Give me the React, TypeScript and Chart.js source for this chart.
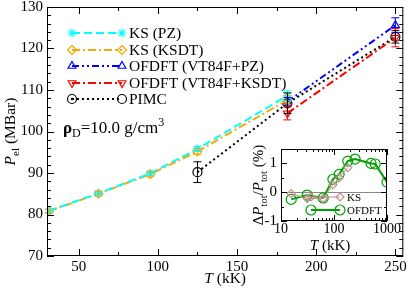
import React, { useEffect, useRef } from 'react';
import { Chart, registerables } from 'chart.js';
Chart.register(...registerables);

const SERIF = '"Liberation Serif", "DejaVu Serif", serif';

// ---- main chart data ----
const T_KS = [31.25, 62.5, 95.25, 125, 181.8];
const P_KS_PZ = [80.9, 85.1, 89.9, 95.8, 108.6];
const E_KS_PZ = [0.4, 0.4, 0.5, 0.6, 1.2];
const P_KS_KSDT = [80.8, 85.0, 89.7, 95.2, 107.6];
const E_KS_KSDT = [0.5, 0.5, 0.6, 0.7, 1.0];
const T_OF = [181.8, 250];
const P_OF_PZ = [107.2, 125.6];
const E_OF_PZ = [1.0, 1.8];
const P_OF_KSDT = [104.4, 122.6];
const E_OF_KSDT = [1.6, 2.2];
const T_PIMC = [125, 181.8, 250];
const P_PIMC = [90.2, 106.8, 122.8];
const E_PIMC = [2.5, 2.5, 1.5];

const X_TICKS = [50, 100, 150, 200, 250];
const X_MINOR = [75, 125, 175, 225];
const Y_TICKS = [70, 80, 90, 100, 110, 120, 130];

const LEGEND_LABELS = ['KS (PZ)', 'KS (KSDT)', 'OFDFT (VT84F+PZ)', 'OFDFT (VT84F+KSDT)', 'PIMC'];

// ---- inset data ----
const T_IN_OF = [15.6, 31.25, 62.5, 95.25, 125, 181.8, 250, 500, 600, 1000];
const D_IN_OF = [-0.25, -0.1, -0.2, 0.45, 0.62, 1.08, 1.15, 1.0, 0.98, 0.35];
const T_IN_KS = [15.6, 31.25, 62.5, 95.25, 125, 181.8];
const D_IN_KS = [-0.05, -0.22, -0.22, 0.25, 0.5, 0.85];
const IN_X_TICKS = [10, 100, 1000];
const IN_Y_TICKS = [-1, 0, 1];
const IN_LEGEND = ['KS', 'OFDFT'];

type Part = { t: string; f: string; dy?: number };

function richWidth(ctx: CanvasRenderingContext2D, parts: Part[]) {
  let w = 0;
  for (const p of parts) { ctx.font = p.f; w += ctx.measureText(p.t).width; }
  return w;
}
function drawRich(ctx: CanvasRenderingContext2D, parts: Part[], x: number, y: number) {
  let cx = x;
  for (const p of parts) {
    ctx.font = p.f;
    ctx.fillText(p.t, cx, y + (p.dy || 0));
    cx += ctx.measureText(p.t).width;
  }
}

function drawMarker(ctx: CanvasRenderingContext2D, style: string, x: number, y: number, r: number, rot = 0) {
  ctx.beginPath();
  if (style === 'circle') {
    ctx.arc(x, y, r, 0, Math.PI * 2);
  } else if (style === 'rectRot') {
    ctx.moveTo(x, y - r); ctx.lineTo(x + r, y); ctx.lineTo(x, y + r); ctx.lineTo(x - r, y); ctx.closePath();
  } else if (style === 'triangle') {
    const a0 = (rot * Math.PI) / 180;
    for (let k = 0; k < 3; k++) {
      const a = a0 + (k * 2 * Math.PI) / 3;
      const px = x + Math.sin(a) * r;
      const py = y - Math.cos(a) * r;
      if (k === 0) ctx.moveTo(px, py); else ctx.lineTo(px, py);
    }
    ctx.closePath();
  } else if (style === 'star') {
    for (let k = 0; k < 4; k++) {
      const a = (k * Math.PI) / 4;
      ctx.moveTo(x - Math.cos(a) * r, y - Math.sin(a) * r);
      ctx.lineTo(x + Math.cos(a) * r, y + Math.sin(a) * r);
    }
  }
  ctx.stroke();
}

type Series = { label: string; xs: number[]; ys: number[]; errs: number[]; color: string; dash: number[]; style: string; rot: number; width: number };

const SERIES: Series[] = [
  { label: LEGEND_LABELS[0], xs: T_KS, ys: P_KS_PZ, errs: E_KS_PZ, color: '#00ffff', dash: [8, 4], style: 'star', rot: 0, width: 2 },
  { label: LEGEND_LABELS[1], xs: T_KS, ys: P_KS_KSDT, errs: E_KS_KSDT, color: '#ffa500', dash: [8, 3, 2, 3], style: 'rectRot', rot: 0, width: 2 },
  { label: LEGEND_LABELS[2], xs: T_OF, ys: P_OF_PZ, errs: E_OF_PZ, color: '#0000ff', dash: [7, 3, 2, 3, 2, 3], style: 'triangle', rot: 0, width: 2 },
  { label: LEGEND_LABELS[3], xs: T_OF, ys: P_OF_KSDT, errs: E_OF_KSDT, color: '#ff0000', dash: [8, 3, 2, 3], style: 'triangle', rot: 180, width: 2 },
  { label: LEGEND_LABELS[4], xs: T_PIMC, ys: P_PIMC, errs: E_PIMC, color: '#000000', dash: [2, 3], style: 'circle', rot: 0, width: 2 },
];

const mainPlugin = {
  id: 'mainDecor',
  afterDatasetsDraw(chart: any) {
    const { ctx, scales } = chart;
    const xs = scales.x, ys = scales.y;
    ctx.save();
    ctx.setLineDash([]);
    SERIES.forEach((s) => {
      ctx.strokeStyle = s.color;
      ctx.lineWidth = 1;
      s.xs.forEach((xv, i) => {
        const px = xs.getPixelForValue(xv);
        const t = ys.getPixelForValue(s.ys[i] + s.errs[i]);
        const b = ys.getPixelForValue(s.ys[i] - s.errs[i]);
        ctx.beginPath();
        ctx.moveTo(px, t); ctx.lineTo(px, b);
        ctx.moveTo(px - 4, t); ctx.lineTo(px + 4, t);
        ctx.moveTo(px - 4, b); ctx.lineTo(px + 4, b);
        ctx.stroke();
      });
    });
    ctx.restore();
  },
  afterDraw(chart: any) {
    const { ctx, chartArea: a, scales } = chart;
    const xs = scales.x, ys = scales.y;
    ctx.save();
    ctx.setLineDash([]);
    ctx.strokeStyle = '#000';
    ctx.lineWidth = 1;
    ctx.strokeRect(a.left + 0.5, a.top + 0.5, a.right - a.left - 1, a.bottom - a.top - 1);
    ctx.beginPath();
    const xt = (v: number, len: number) => {
      const p = Math.round(xs.getPixelForValue(v)) + 0.5;
      ctx.moveTo(p, a.bottom); ctx.lineTo(p, a.bottom - len);
      ctx.moveTo(p, a.top); ctx.lineTo(p, a.top + len);
    };
    X_TICKS.forEach((v) => xt(v, 7));
    X_MINOR.forEach((v) => xt(v, 4));
    for (let v = 70; v <= 130; v += 2) {
      const len = v % 10 === 0 ? 7 : 4;
      const p = Math.round(ys.getPixelForValue(v)) + 0.5;
      ctx.moveTo(a.left, p); ctx.lineTo(a.left + len, p);
      ctx.moveTo(a.right, p); ctx.lineTo(a.right - len, p);
    }
    ctx.stroke();

    // legend
    const rows = [33, 50, 66, 83, 99];
    SERIES.forEach((s, i) => {
      const y = rows[i];
      ctx.strokeStyle = s.color;
      ctx.lineWidth = s.width;
      ctx.setLineDash(s.dash);
      ctx.beginPath(); ctx.moveTo(72, y); ctx.lineTo(122, y); ctx.stroke();
      ctx.setLineDash([]);
      ctx.lineWidth = 1.2;
      drawMarker(ctx, s.style, 72, y, 4.5, s.rot);
      drawMarker(ctx, s.style, 122, y, 4.5, s.rot);
      if (s.style === 'circle') {
        ctx.fillStyle = '#000';
        ctx.beginPath(); ctx.arc(72, y, 1.2, 0, Math.PI * 2); ctx.fill();
      }
      ctx.fillStyle = '#000';
      ctx.textBaseline = 'middle';
      ctx.textAlign = 'left';
      ctx.font = `15.5px ${SERIF}`;
      ctx.fillText(s.label, 129, y + 1);
    });

    // density annotation
    ctx.fillStyle = '#000';
    ctx.textBaseline = 'alphabetic';
    ctx.textAlign = 'left';
    drawRich(ctx, [
      { t: 'ρ', f: `bold 17px ${SERIF}` },
      { t: 'D', f: `12px ${SERIF}`, dy: 4 },
      { t: '=10.0 g/cm', f: `17px ${SERIF}` },
      { t: '3', f: `12px ${SERIF}`, dy: -7 },
    ], 63, 133);

    // x title
    const xParts: Part[] = [
      { t: 'T', f: `italic 15.5px ${SERIF}` },
      { t: ' (kK)', f: `15.5px ${SERIF}` },
    ];
    const xw = richWidth(ctx, xParts);
    drawRich(ctx, xParts, (a.left + a.right) / 2 - xw / 2, 283);

    // y title
    const yParts: Part[] = [
      { t: 'P', f: `italic 15.5px ${SERIF}` },
      { t: 'el', f: `11px ${SERIF}`, dy: 4 },
      { t: ' (MBar)', f: `15.5px ${SERIF}` },
    ];
    const yw = richWidth(ctx, yParts);
    ctx.translate(15, (a.top + a.bottom) / 2);
    ctx.rotate(-Math.PI / 2);
    drawRich(ctx, yParts, -yw / 2, 0);
    ctx.restore();
  },
};

const insetPlugin = {
  id: 'insetDecor',
  beforeDatasetsDraw(chart: any) {
    const { ctx, chartArea: a, scales } = chart;
    ctx.save();
    ctx.strokeStyle = '#888';
    ctx.lineWidth = 1;
    const p = Math.round(scales.y.getPixelForValue(0)) + 0.5;
    ctx.beginPath(); ctx.moveTo(a.left, p); ctx.lineTo(a.right, p); ctx.stroke();
    ctx.restore();
  },
  afterDraw(chart: any) {
    const { ctx, chartArea: a, scales } = chart;
    const xs = scales.x, ys = scales.y;
    ctx.save();
    ctx.strokeStyle = '#000';
    ctx.lineWidth = 1;
    ctx.setLineDash([]);
    ctx.strokeRect(a.left + 0.5, a.top + 0.5, a.right - a.left - 1, a.bottom - a.top - 1);
    ctx.beginPath();
    for (let d = 10; d < 1000; d *= 10) {
      for (let m = 1; m <= 10; m++) {
        const v = d * m;
        const len = m === 1 || m === 10 ? 6 : 3;
        const p = Math.round(xs.getPixelForValue(v)) + 0.5;
        ctx.moveTo(p, a.bottom); ctx.lineTo(p, a.bottom - len);
        ctx.moveTo(p, a.top); ctx.lineTo(p, a.top + len);
      }
    }
    for (let v = -1; v <= 1.5; v += 0.5) {
      const len = Number.isInteger(v) ? 6 : 3;
      const p = Math.round(ys.getPixelForValue(v)) + 0.5;
      ctx.moveTo(a.left, p); ctx.lineTo(a.left + len, p);
      ctx.moveTo(a.right, p); ctx.lineTo(a.right - len, p);
    }
    ctx.stroke();

    // legend
    const rows = [59, 72];
    const st = [
      { color: '#c09090', style: 'rectRot', r: 4, lw: 1 },
      { color: '#00a000', style: 'circle', r: 5, lw: 2 },
    ];
    st.forEach((s, i) => {
      const y = rows[i];
      ctx.strokeStyle = s.color;
      ctx.lineWidth = s.lw;
      ctx.beginPath(); ctx.moveTo(71, y); ctx.lineTo(100, y); ctx.stroke();
      ctx.lineWidth = 1.2;
      drawMarker(ctx, s.style, 71, y, s.r);
      drawMarker(ctx, s.style, 100, y, s.r);
      ctx.fillStyle = '#000';
      ctx.textBaseline = 'middle';
      ctx.font = `11px ${SERIF}`;
      ctx.fillText(IN_LEGEND[i], 107, y + 1);
    });

    ctx.fillStyle = '#000';
    ctx.textBaseline = 'alphabetic';
    const xParts: Part[] = [
      { t: 'T', f: `italic 15px ${SERIF}` },
      { t: ' (kK)', f: `15px ${SERIF}` },
    ];
    const xw = richWidth(ctx, xParts);
    drawRich(ctx, xParts, 90 - xw / 2, 112);

    const yParts: Part[] = [
      { t: 'Δ', f: `15px ${SERIF}` },
      { t: 'P', f: `italic 15px ${SERIF}` },
      { t: 'tot', f: `10.5px ${SERIF}`, dy: 4 },
      { t: '/', f: `15px ${SERIF}` },
      { t: 'P', f: `italic 15px ${SERIF}` },
      { t: 'tot', f: `10.5px ${SERIF}`, dy: 4 },
      { t: ' (%)', f: `15px ${SERIF}` },
    ];
    const yw = richWidth(ctx, yParts);
    ctx.translate(23, (a.top + a.bottom) / 2);
    ctx.rotate(-Math.PI / 2);
    drawRich(ctx, yParts, -yw / 2, 0);
    ctx.restore();
  },
};

export default function App() {
  const mainRef = useRef<HTMLCanvasElement>(null);
  const insetRef = useRef<HTMLCanvasElement>(null);

  useEffect(() => {
    const tickFont = { family: SERIF, size: 15 };
    const main = new Chart(mainRef.current!, {
      type: 'line',
      data: {
        datasets: SERIES.map((s) => ({
          label: s.label,
          data: s.xs.map((x, i) => ({ x, y: s.ys[i] })),
          borderColor: s.color,
          backgroundColor: 'transparent',
          borderDash: s.dash,
          borderWidth: s.width,
          pointStyle: s.style as any,
          pointRotation: s.rot,
          pointRadius: 4.5,
          pointBorderColor: s.color,
          pointBorderWidth: 1.2,
          pointBackgroundColor: 'transparent',
          tension: 0,
          fill: false,
        })),
      },
      options: {
        animation: false,
        responsive: false,
        devicePixelRatio: 1,
        layout: { padding: { top: 7, right: 5, left: 0, bottom: 0 } },
        plugins: { legend: { display: false }, tooltip: { enabled: false } },
        scales: {
          x: {
            type: 'linear',
            min: 30,
            max: 255,
            afterBuildTicks: (s: any) => { s.ticks = X_TICKS.map((v) => ({ value: v })); },
            afterFit: (s: any) => { s.height = 32; s.paddingLeft = 0; s.paddingRight = 0; },
            grid: { display: false, drawTicks: false },
            border: { display: false },
            ticks: { color: '#000', font: tickFont, padding: 2, maxRotation: 0, autoSkip: false },
          },
          y: {
            type: 'linear',
            min: 70,
            max: 130,
            afterBuildTicks: (s: any) => { s.ticks = Y_TICKS.map((v) => ({ value: v })); },
            afterFit: (s: any) => { s.width = 47; s.paddingTop = 0; s.paddingBottom = 0; },
            grid: { display: false, drawTicks: false },
            border: { display: false },
            ticks: { color: '#000', font: tickFont, padding: 4, autoSkip: false },
          },
        },
      } as any,
      plugins: [mainPlugin],
    });

    const inset = new Chart(insetRef.current!, {
      type: 'line',
      data: {
        datasets: [
          {
            label: IN_LEGEND[0],
            data: T_IN_KS.map((x, i) => ({ x, y: D_IN_KS[i] })),
            borderColor: '#c09090',
            borderWidth: 1,
            pointStyle: 'rectRot',
            pointRadius: 4,
            pointBorderColor: '#c09090',
            pointBorderWidth: 1.2,
            pointBackgroundColor: 'transparent',
            backgroundColor: 'transparent',
            tension: 0,
          },
          {
            label: IN_LEGEND[1],
            data: T_IN_OF.map((x, i) => ({ x, y: D_IN_OF[i] })),
            borderColor: '#00a000',
            borderWidth: 2,
            pointStyle: 'circle',
            pointRadius: 5,
            pointBorderColor: '#00a000',
            pointBorderWidth: 1.2,
            pointBackgroundColor: 'transparent',
            backgroundColor: 'transparent',
            tension: 0,
          },
        ],
      },
      options: {
        animation: false,
        responsive: false,
        devicePixelRatio: 1,
        layout: { padding: { top: 11, right: 18, left: 0, bottom: 0 } },
        plugins: { legend: { display: false }, tooltip: { enabled: false } },
        scales: {
          x: {
            type: 'logarithmic',
            min: 10,
            max: 1000,
            afterBuildTicks: (s: any) => { s.ticks = IN_X_TICKS.map((v) => ({ value: v })); },
            afterFit: (s: any) => { s.height = 37; s.paddingLeft = 0; s.paddingRight = 0; },
            grid: { display: false, drawTicks: false },
            border: { display: false },
            ticks: { color: '#000', font: { family: SERIF, size: 14 }, padding: 0, maxRotation: 0, autoSkip: false, callback: (v: any) => String(v) },
          },
          y: {
            type: 'linear',
            min: -1,
            max: 1.5,
            afterBuildTicks: (s: any) => { s.ticks = IN_Y_TICKS.map((v) => ({ value: v })); },
            afterFit: (s: any) => { s.width = 41; s.paddingTop = 0; s.paddingBottom = 0; },
            grid: { display: false, drawTicks: false },
            border: { display: false },
            ticks: { color: '#000', font: { family: SERIF, size: 15 }, padding: 4, autoSkip: false },
          },
        },
      } as any,
      plugins: [insetPlugin],
    });

    return () => { main.destroy(); inset.destroy(); };
  }, []);

  return (
    <div style={{ position: 'absolute', left: 0, top: 0, width: 409, height: 288, background: '#fff' }}>
      <canvas ref={mainRef} width={409} height={288} style={{ position: 'absolute', left: 0, top: 0 }} />
      <canvas ref={insetRef} width={165} height={120} style={{ position: 'absolute', left: 240, top: 138 }} />
    </div>
  );
}
